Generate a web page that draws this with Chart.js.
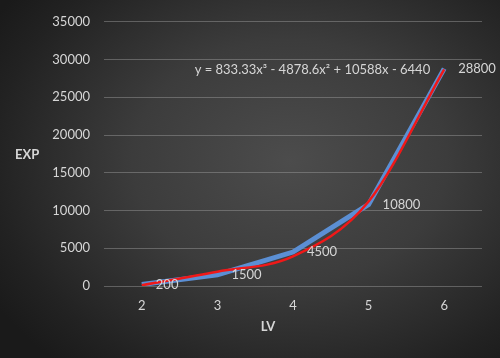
<!DOCTYPE html>
<html>
<head>
<meta charset="utf-8">
<script src="https://cdn.jsdelivr.net/npm/chart.js@4/dist/chart.umd.min.js"></script>
<style>
  html, body { margin: 0; padding: 0; width: 500px; height: 358px; overflow: hidden; }
  body { background: radial-gradient(ellipse 70% 75% at 58% 45%, #4c4c4c 0%, #3c3c3c 45%, #222 85%, #1a1a1a 100%); }
  #wrap { width: 500px; height: 358px; }
</style>
</head>
<body>
<div id="wrap"><canvas id="c" width="500" height="358"></canvas></div>
<script>
const levels = ['2', '3', '4', '5', '6'];
const expValues = [200, 1500, 4500, 10800, 28800];
const trendValues = [100, 1890, 3920, 11190, 28700];
const yTicks = [0, 5000, 10000, 15000, 20000, 25000, 30000, 35000];
const equationText = 'y = 833.33x\u00B3 - 4878.6x\u00B2 + 10588x - 6440';
const xTitle = 'LV';
const yTitle = 'EXP';

const FONT = 'Lato, "Open Sans", sans-serif';
const TXT = '#d6d6d6';

const labelsPlugin = {
  id: 'labelsPlugin',
  afterDatasetsDraw(chart) {
    const ctx = chart.ctx;
    const meta = chart.getDatasetMeta(0);
    ctx.save();
    ctx.font = '13px ' + FONT;
    ctx.fillStyle = TXT;
    ctx.textBaseline = 'middle';
    ctx.textAlign = 'left';
    meta.data.forEach((pt, i) => {
      ctx.fillText(String(expValues[i]), pt.x + 14, pt.y);
    });
    const last = meta.data[meta.data.length - 1];
    ctx.textAlign = 'right';
    ctx.fillText(equationText, last.x - 14, last.y + 1);
    const ca = chart.chartArea;
    ctx.font = 'bold 13px ' + FONT;
    ctx.textAlign = 'left';
    ctx.fillText(yTitle, 15, (ca.top + ca.bottom) / 2 + 1);
    ctx.textAlign = 'center';
    ctx.fillText(xTitle, (ca.left + ca.right) / 2 - 25, ca.bottom + 41);
    ctx.restore();
  }
};

new Chart(document.getElementById('c'), {
  type: 'line',
  data: {
    labels: levels,
    datasets: [
      {
        label: 'EXP',
        data: expValues,
        borderColor: '#5b8fd4',
        borderWidth: 5,
        pointRadius: 0,
        tension: 0,
        fill: false,
        order: 2
      },
      {
        label: 'Trend',
        data: trendValues,
        borderColor: '#f01818',
        borderWidth: 2.5,
        pointRadius: 0,
        cubicInterpolationMode: 'monotone',
        fill: false,
        order: 1
      }
    ]
  },
  options: {
    responsive: false,
    animation: false,
    devicePixelRatio: 1,
    layout: { padding: { top: 17, right: 18, left: 0, bottom: 0 } },
    plugins: { legend: { display: false }, tooltip: { enabled: false } },
    scales: {
      x: {
        offset: true,
        grid: { display: false, drawTicks: false },
        border: { display: false },
        ticks: { color: TXT, font: { family: FONT, size: 13 }, padding: 12 },
        afterFit(s) { s.height = 72; }
      },
      y: {
        min: 0, max: 35000,
        afterBuildTicks(s) { s.ticks = yTicks.map(v => ({ value: v })); },
        grid: { color: 'rgba(160,160,160,0.45)', lineWidth: 1, drawTicks: false },
        border: { display: false },
        ticks: { color: TXT, font: { family: FONT, size: 13 }, padding: 14, callback: v => String(v) },
        afterFit(s) { s.width = 104; }
      }
    }
  },
  plugins: [labelsPlugin]
});
</script>
</body>
</html>
